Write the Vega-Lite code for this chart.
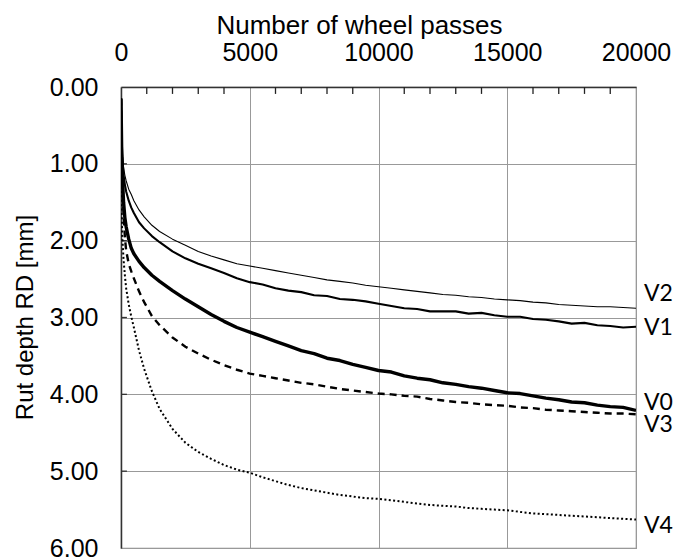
{
  "$schema": "https://vega.github.io/schema/vega-lite/v6.json",
  "width": 515,
  "height": 461,
  "autosize": {"type": "none"},
  "padding": {"left": 121, "top": 87, "right": 40, "bottom": 10},
  "background": "white",
  "config": {
    "font": "Liberation Sans",
    "view": {"stroke": "#8c8c8c", "strokeWidth": 1.2},
    "axis": {"labelFont": "Liberation Sans", "titleFont": "Liberation Sans", "labelColor": "#000", "titleColor": "#000", "titleFontWeight": "normal"}
  },
  "datasets": {
    "curves": [
      {"s":"V0","x":0,"y":0.15},{"s":"V0","x":25,"y":0.8},{"s":"V0","x":50,"y":1.15},{"s":"V0","x":100,"y":1.5},{"s":"V0","x":150,"y":1.7},{"s":"V0","x":200,"y":1.82},{"s":"V0","x":300,"y":1.98},{"s":"V0","x":400,"y":2.1},{"s":"V0","x":500,"y":2.17},{"s":"V0","x":700,"y":2.27},{"s":"V0","x":900,"y":2.35},{"s":"V0","x":1200,"y":2.45},{"s":"V0","x":1500,"y":2.53},{"s":"V0","x":2000,"y":2.65},{"s":"V0","x":2500,"y":2.76},{"s":"V0","x":3000,"y":2.86},{"s":"V0","x":3500,"y":2.96},{"s":"V0","x":4000,"y":3.05},{"s":"V0","x":4500,"y":3.13},{"s":"V0","x":5000,"y":3.19},{"s":"V0","x":5500,"y":3.25},{"s":"V0","x":6000,"y":3.31},{"s":"V0","x":6500,"y":3.37},{"s":"V0","x":7000,"y":3.43},{"s":"V0","x":7500,"y":3.47},{"s":"V0","x":8000,"y":3.53},{"s":"V0","x":8500,"y":3.56},{"s":"V0","x":9000,"y":3.61},{"s":"V0","x":9500,"y":3.65},{"s":"V0","x":10000,"y":3.69},{"s":"V0","x":10500,"y":3.71},{"s":"V0","x":11000,"y":3.76},{"s":"V0","x":11500,"y":3.79},{"s":"V0","x":12000,"y":3.81},{"s":"V0","x":12500,"y":3.85},{"s":"V0","x":13000,"y":3.87},{"s":"V0","x":13500,"y":3.9},{"s":"V0","x":14000,"y":3.92},{"s":"V0","x":14500,"y":3.95},{"s":"V0","x":15000,"y":3.98},{"s":"V0","x":15500,"y":3.99},{"s":"V0","x":16000,"y":4.02},{"s":"V0","x":16500,"y":4.05},{"s":"V0","x":17000,"y":4.07},{"s":"V0","x":17500,"y":4.1},{"s":"V0","x":18000,"y":4.11},{"s":"V0","x":18500,"y":4.14},{"s":"V0","x":19000,"y":4.16},{"s":"V0","x":19500,"y":4.17},{"s":"V0","x":20000,"y":4.21},

      {"s":"V1","x":0,"y":0.15},{"s":"V1","x":25,"y":0.65},{"s":"V1","x":50,"y":0.9},{"s":"V1","x":100,"y":1.15},{"s":"V1","x":150,"y":1.27},{"s":"V1","x":200,"y":1.36},{"s":"V1","x":300,"y":1.48},{"s":"V1","x":400,"y":1.57},{"s":"V1","x":500,"y":1.64},{"s":"V1","x":700,"y":1.76},{"s":"V1","x":900,"y":1.84},{"s":"V1","x":1200,"y":1.94},{"s":"V1","x":1500,"y":2.02},{"s":"V1","x":2000,"y":2.14},{"s":"V1","x":2500,"y":2.23},{"s":"V1","x":3000,"y":2.3},{"s":"V1","x":3500,"y":2.36},{"s":"V1","x":4000,"y":2.42},{"s":"V1","x":4500,"y":2.49},{"s":"V1","x":5000,"y":2.54},{"s":"V1","x":5500,"y":2.57},{"s":"V1","x":6000,"y":2.62},{"s":"V1","x":6500,"y":2.65},{"s":"V1","x":7000,"y":2.67},{"s":"V1","x":7500,"y":2.71},{"s":"V1","x":8000,"y":2.72},{"s":"V1","x":8500,"y":2.76},{"s":"V1","x":9000,"y":2.77},{"s":"V1","x":9500,"y":2.79},{"s":"V1","x":10000,"y":2.82},{"s":"V1","x":10500,"y":2.85},{"s":"V1","x":11000,"y":2.88},{"s":"V1","x":11500,"y":2.89},{"s":"V1","x":12000,"y":2.92},{"s":"V1","x":12500,"y":2.92},{"s":"V1","x":13000,"y":2.92},{"s":"V1","x":13500,"y":2.95},{"s":"V1","x":14000,"y":2.94},{"s":"V1","x":14500,"y":2.97},{"s":"V1","x":15000,"y":2.99},{"s":"V1","x":15500,"y":2.99},{"s":"V1","x":16000,"y":3.02},{"s":"V1","x":16500,"y":3.03},{"s":"V1","x":17000,"y":3.05},{"s":"V1","x":17500,"y":3.08},{"s":"V1","x":18000,"y":3.07},{"s":"V1","x":18500,"y":3.1},{"s":"V1","x":19000,"y":3.11},{"s":"V1","x":19500,"y":3.13},{"s":"V1","x":20000,"y":3.12},

      {"s":"V2","x":0,"y":0.15},{"s":"V2","x":25,"y":0.6},{"s":"V2","x":50,"y":0.85},{"s":"V2","x":100,"y":1.05},{"s":"V2","x":150,"y":1.15},{"s":"V2","x":200,"y":1.22},{"s":"V2","x":300,"y":1.33},{"s":"V2","x":400,"y":1.4},{"s":"V2","x":500,"y":1.48},{"s":"V2","x":700,"y":1.6},{"s":"V2","x":900,"y":1.69},{"s":"V2","x":1200,"y":1.8},{"s":"V2","x":1500,"y":1.88},{"s":"V2","x":2000,"y":1.98},{"s":"V2","x":2500,"y":2.06},{"s":"V2","x":3000,"y":2.14},{"s":"V2","x":3500,"y":2.2},{"s":"V2","x":4000,"y":2.25},{"s":"V2","x":4500,"y":2.3},{"s":"V2","x":5000,"y":2.33},{"s":"V2","x":5500,"y":2.36},{"s":"V2","x":6000,"y":2.39},{"s":"V2","x":6500,"y":2.42},{"s":"V2","x":7000,"y":2.45},{"s":"V2","x":7500,"y":2.48},{"s":"V2","x":8000,"y":2.51},{"s":"V2","x":8500,"y":2.53},{"s":"V2","x":9000,"y":2.55},{"s":"V2","x":9500,"y":2.58},{"s":"V2","x":10000,"y":2.6},{"s":"V2","x":10500,"y":2.62},{"s":"V2","x":11000,"y":2.64},{"s":"V2","x":11500,"y":2.66},{"s":"V2","x":12000,"y":2.68},{"s":"V2","x":12500,"y":2.7},{"s":"V2","x":13000,"y":2.71},{"s":"V2","x":13500,"y":2.73},{"s":"V2","x":14000,"y":2.74},{"s":"V2","x":14500,"y":2.76},{"s":"V2","x":15000,"y":2.77},{"s":"V2","x":15500,"y":2.78},{"s":"V2","x":16000,"y":2.8},{"s":"V2","x":16500,"y":2.81},{"s":"V2","x":17000,"y":2.83},{"s":"V2","x":17500,"y":2.84},{"s":"V2","x":18000,"y":2.85},{"s":"V2","x":18500,"y":2.86},{"s":"V2","x":19000,"y":2.86},{"s":"V2","x":19500,"y":2.87},{"s":"V2","x":20000,"y":2.88},

      {"s":"V3","x":0,"y":0.15},{"s":"V3","x":25,"y":0.9},{"s":"V3","x":50,"y":1.25},{"s":"V3","x":100,"y":1.65},{"s":"V3","x":150,"y":1.95},{"s":"V3","x":200,"y":2.13},{"s":"V3","x":300,"y":2.3},{"s":"V3","x":400,"y":2.4},{"s":"V3","x":500,"y":2.49},{"s":"V3","x":700,"y":2.66},{"s":"V3","x":900,"y":2.8},{"s":"V3","x":1200,"y":2.98},{"s":"V3","x":1500,"y":3.1},{"s":"V3","x":2000,"y":3.26},{"s":"V3","x":2500,"y":3.38},{"s":"V3","x":3000,"y":3.47},{"s":"V3","x":3500,"y":3.55},{"s":"V3","x":4000,"y":3.62},{"s":"V3","x":4500,"y":3.68},{"s":"V3","x":5000,"y":3.73},{"s":"V3","x":5500,"y":3.76},{"s":"V3","x":6000,"y":3.79},{"s":"V3","x":6500,"y":3.82},{"s":"V3","x":7000,"y":3.85},{"s":"V3","x":7500,"y":3.87},{"s":"V3","x":8000,"y":3.9},{"s":"V3","x":8500,"y":3.93},{"s":"V3","x":9000,"y":3.95},{"s":"V3","x":9500,"y":3.97},{"s":"V3","x":10000,"y":3.99},{"s":"V3","x":10500,"y":4.0},{"s":"V3","x":11000,"y":4.02},{"s":"V3","x":11500,"y":4.03},{"s":"V3","x":12000,"y":4.06},{"s":"V3","x":12500,"y":4.08},{"s":"V3","x":13000,"y":4.1},{"s":"V3","x":13500,"y":4.11},{"s":"V3","x":14000,"y":4.13},{"s":"V3","x":14500,"y":4.14},{"s":"V3","x":15000,"y":4.15},{"s":"V3","x":15500,"y":4.17},{"s":"V3","x":16000,"y":4.18},{"s":"V3","x":16500,"y":4.2},{"s":"V3","x":17000,"y":4.21},{"s":"V3","x":17500,"y":4.22},{"s":"V3","x":18000,"y":4.23},{"s":"V3","x":18500,"y":4.24},{"s":"V3","x":19000,"y":4.25},{"s":"V3","x":19500,"y":4.25},{"s":"V3","x":20000,"y":4.26},

      {"s":"V4","x":0,"y":0.15},{"s":"V4","x":10,"y":1.0},{"s":"V4","x":25,"y":1.6},{"s":"V4","x":50,"y":1.95},{"s":"V4","x":100,"y":2.25},{"s":"V4","x":150,"y":2.45},{"s":"V4","x":200,"y":2.62},{"s":"V4","x":300,"y":2.83},{"s":"V4","x":400,"y":2.99},{"s":"V4","x":500,"y":3.13},{"s":"V4","x":700,"y":3.43},{"s":"V4","x":900,"y":3.67},{"s":"V4","x":1200,"y":3.96},{"s":"V4","x":1500,"y":4.19},{"s":"V4","x":2000,"y":4.45},{"s":"V4","x":2500,"y":4.63},{"s":"V4","x":3000,"y":4.75},{"s":"V4","x":3500,"y":4.84},{"s":"V4","x":4000,"y":4.92},{"s":"V4","x":4500,"y":4.98},{"s":"V4","x":5000,"y":5.02},{"s":"V4","x":5500,"y":5.08},{"s":"V4","x":6000,"y":5.13},{"s":"V4","x":6500,"y":5.18},{"s":"V4","x":7000,"y":5.22},{"s":"V4","x":7500,"y":5.25},{"s":"V4","x":8000,"y":5.28},{"s":"V4","x":8500,"y":5.31},{"s":"V4","x":9000,"y":5.33},{"s":"V4","x":9500,"y":5.35},{"s":"V4","x":10000,"y":5.36},{"s":"V4","x":10500,"y":5.38},{"s":"V4","x":11000,"y":5.4},{"s":"V4","x":11500,"y":5.42},{"s":"V4","x":12000,"y":5.44},{"s":"V4","x":12500,"y":5.45},{"s":"V4","x":13000,"y":5.46},{"s":"V4","x":13500,"y":5.48},{"s":"V4","x":14000,"y":5.49},{"s":"V4","x":14500,"y":5.5},{"s":"V4","x":15000,"y":5.51},{"s":"V4","x":15500,"y":5.53},{"s":"V4","x":16000,"y":5.55},{"s":"V4","x":16500,"y":5.56},{"s":"V4","x":17000,"y":5.57},{"s":"V4","x":17500,"y":5.58},{"s":"V4","x":18000,"y":5.59},{"s":"V4","x":18500,"y":5.6},{"s":"V4","x":19000,"y":5.61},{"s":"V4","x":19500,"y":5.62},{"s":"V4","x":20000,"y":5.63}
    ],
    "labels": [
      {"s":"V2","x":20000,"y":2.69},
      {"s":"V1","x":20000,"y":3.14},
      {"s":"V0","x":20000,"y":4.11},
      {"s":"V3","x":20000,"y":4.4},
      {"s":"V4","x":20000,"y":5.71}
    ],
    "xticks": [
      {"x":1000,"y":0,"y2":0.09},{"x":2000,"y":0,"y2":0.09},{"x":3000,"y":0,"y2":0.09},{"x":4000,"y":0,"y2":0.09},{"x":6000,"y":0,"y2":0.09},{"x":7000,"y":0,"y2":0.09},{"x":8000,"y":0,"y2":0.09},{"x":9000,"y":0,"y2":0.09},
      {"x":11000,"y":0,"y2":0.09},{"x":12000,"y":0,"y2":0.09},{"x":13000,"y":0,"y2":0.09},{"x":14000,"y":0,"y2":0.09},{"x":16000,"y":0,"y2":0.09},{"x":17000,"y":0,"y2":0.09},{"x":18000,"y":0,"y2":0.09},{"x":19000,"y":0,"y2":0.09}
    ],
    "yticks": [
      {"y":1,"x":0,"x2":230},{"y":2,"x":0,"x2":230},{"y":3,"x":0,"x2":230},{"y":4,"x":0,"x2":230},{"y":5,"x":0,"x2":230}
    ]
  },
  "encoding": {
    "x": {
      "field": "x", "type": "quantitative",
      "scale": {"domain": [0, 20000], "nice": false, "zero": true},
      "axis": {
        "orient": "top",
        "title": "Number of wheel passes",
        "titleFontSize": 26,
        "titleX": 238,
        "titleY": -54,
        "titleAlign": "center",
        "titleBaseline": "alphabetic",
        "values": [0,5000,10000,15000,20000],
        "tickCount": 40,
        "labelFontSize": 25,
        "format": "d",
        "labelFlush": false,
        "labelOverlap": false,
        "ticks": false,
        "labelPadding": 22,
        "domainColor": "#333",
        "domainWidth": 1.5,
        "grid": true,
        "gridColor": "#999",
        "gridWidth": 1
      }
    },
    "y": {
      "field": "y", "type": "quantitative",
      "scale": {"domain": [0, 6], "nice": false, "reverse": true},
      "axis": {
        "title": "Rut depth RD [mm]",
        "titleFontSize": 24,
        "titleX": -96,
        "titleY": 230,
        "titleAngle": -90,
        "titleAlign": "center",
        "titleBaseline": "middle",
        "values": [0,1,2,3,4,5,6],
        "tickCount": 20,
        "format": ".2f",
        "labelFontSize": 25,
        "labelFlush": false,
        "labelOverlap": false,
        "ticks": false,
        "labelPadding": 23,
        "domainColor": "#333",
        "domainWidth": 1.5,
        "grid": true,
        "gridColor": "#999",
        "gridWidth": 1
      }
    }
  },
  "layer": [
    {
      "data": {"name": "xticks"},
      "mark": {"type": "rule", "color": "#222", "strokeWidth": 1.3},
      "encoding": {
        "y2": {"field": "y2"}
      }
    },
    {
      "data": {"name": "yticks"},
      "mark": {"type": "rule", "color": "#333", "strokeWidth": 1.3},
      "encoding": {
        "x2": {"field": "x2"}
      }
    },
    {
      "data": {"name": "curves"},
      "transform": [{"filter": "datum.s === 'V4'"}],
      "mark": {"type": "line", "color": "#000", "strokeWidth": 2, "strokeDash": [2, 2.4], "strokeCap": "butt", "clip": true}
    },
    {
      "data": {"name": "curves"},
      "transform": [{"filter": "datum.s === 'V3'"}],
      "mark": {"type": "line", "color": "#000", "strokeWidth": 2.4, "strokeDash": [7, 5], "strokeCap": "butt", "clip": true}
    },
    {
      "data": {"name": "curves"},
      "transform": [{"filter": "datum.s === 'V2'"}],
      "mark": {"type": "line", "color": "#000", "strokeWidth": 1.1, "strokeJoin": "round", "clip": true}
    },
    {
      "data": {"name": "curves"},
      "transform": [{"filter": "datum.s === 'V1'"}],
      "mark": {"type": "line", "color": "#000", "strokeWidth": 2.1, "strokeJoin": "round", "clip": true}
    },
    {
      "data": {"name": "curves"},
      "transform": [{"filter": "datum.s === 'V0'"}],
      "mark": {"type": "line", "color": "#000", "strokeWidth": 3.4, "strokeJoin": "round", "clip": true}
    },
    {
      "data": {"name": "labels"},
      "mark": {"type": "text", "align": "left", "baseline": "middle", "dx": 8, "font": "Lato", "fontSize": 23, "color": "#000"},
      "encoding": {
        "text": {"field": "s"}
      }
    }
  ]
}
